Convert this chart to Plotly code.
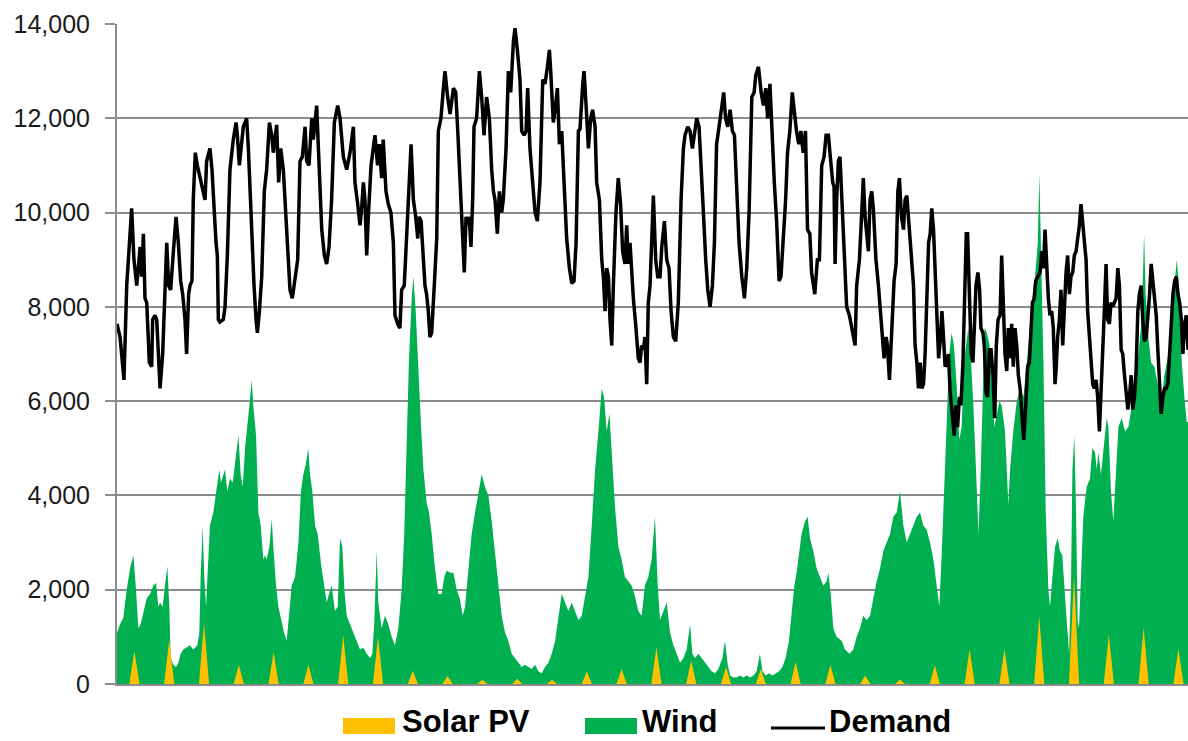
import plotly.graph_objects as go

# hour of month -> MW at turning points
demand_hours = [
    0, 2.1, 3.2, 4.8, 6.7, 8.5, 10.1, 11.7, 13.6, 14.7, 15.9, 17.0, 18.2, 19.3, 20.5, 22.3, 23.9,
    24.6, 26.2, 27.4, 28.5, 29.7, 31.5, 33.1, 34.3, 35.6, 37.0, 38.9, 40.7, 42.3, 43.9, 45.3, 46.9,
    48.0, 49.4, 50.3, 51.7, 52.6, 54.0, 55.4, 56.8, 57.7, 59.1, 60.7, 61.8, 64.1, 65.5, 66.9, 68.3,
    69.2, 69.9, 71.0, 73.3, 74.5, 76.1, 77.9, 80.2, 82.1, 83.0, 84.4, 86.0, 87.1, 88.3, 89.4, 90.6,
    91.7, 93.6, 94.5, 95.9, 96.8, 98.2, 99.8, 101.6, 103.2, 105.1, 106.7, 107.8, 110.1, 111.5, 112.9,
    114.7, 116.6, 118.2, 119.3, 120.9, 122.8, 124.6, 126.2, 127.8, 129.7, 130.8, 132.4, 134.3, 135.4,
    137.7, 138.9, 140.0, 141.2, 143.0, 144.6, 146.2, 148.0, 149.9, 152.2, 153.8, 156.1, 158.4, 160.7,
    163.0, 164.1, 166.0, 167.6, 168.7, 169.9, 171.0, 172.2, 173.3, 175.2, 176.7, 177.9, 179.7, 180.9,
    182.5, 183.6, 185.5, 187.1, 188.9, 190.6, 191.7, 193.5, 195.1, 196.3, 198.1, 199.7, 201.3, 202.8,
    204.4, 206.0, 207.4, 208.3, 209.7, 210.8, 212.4, 213.5, 214.7, 215.8, 217.0, 218.8, 220.5, 221.6,
    223.4, 225.1, 226.2, 228.0, 229.7, 232.0, 233.6, 235.0, 236.6, 238.2, 239.5, 240.7, 241.8, 242.9,
    244.1, 245.3, 246.2, 248.0, 249.9, 251.5, 253.1, 254.9, 256.8, 258.4, 259.6, 260.7, 262.3, 263.7,
    265.3, 266.4, 268.3, 269.9, 271.5, 273.4, 274.5, 276.1, 277.9, 279.1, 280.7, 282.1, 283.2, 284.8,
    286.7, 288.3, 289.9, 291.7, 293.6, 295.2, 296.8, 298.2, 299.1, 300.9, 302.1, 303.7, 305.1, 306.7,
    308.3, 310.1, 312.0, 313.6, 315.2, 316.6, 318.2, 319.3, 321.2, 322.1, 323.5, 325.1, 326.7, 328.0,
    329.7, 330.8, 332.7, 334.3, 335.4, 336.6, 337.7, 338.9, 340.0, 341.2, 342.3, 344.1, 345.7, 347.3,
    348.7, 350.3, 351.5, 352.6, 353.8, 354.9, 356.1, 357.9, 359.5, 360.7, 361.8, 363.0, 364.1, 365.3,
    366.4, 367.6, 368.7, 369.9, 371.5, 372.9, 374.5, 375.7, 377.5, 379.1, 380.7, 382.1, 383.7, 385.3,
    387.1, 389.0, 390.6, 391.7, 393.6, 395.2, 396.8, 398.2, 399.8, 401.4, 402.8, 404.4, 406.0, 407.4,
    409.0, 410.6, 412.0, 413.5, 415.2, 416.8, 418.4, 419.7, 421.2, 422.8, 424.4, 425.8, 427.4, 429.0,
    430.9, 432.7, 434.3, 435.9, 437.8, 439.4, 440.5, 442.4, 444.2, 445.8, 447.4, 448.7, 450.3, 451.5,
    453.3, 454.9, 456.6, 457.9, 459.5, 461.1, 462.4, 464.0, 465.7, 467.4, 468.6, 470.2, 471.6, 473.2,
    474.8, 476.2, 477.8, 479.0, 481.2, 483.0, 484.4, 486.0, 487.6, 489.0, 490.6, 492.2, 493.6, 494.5,
    495.2, 496.3, 497.5, 498.6, 499.8, 500.9, 502.1, 503.2, 505.1, 506.7, 508.3, 509.0, 510.1, 512.0,
    513.6, 514.7, 515.9, 517.0, 518.2, 519.3, 520.5, 521.6, 523.4, 525.1, 526.7, 528.1, 529.0, 530.4,
    531.3, 532.7, 534.3, 535.9, 537.3, 538.5, 539.6, 541.0, 542.4, 543.5, 544.7, 545.8, 547.0, 548.1,
    549.3, 550.4, 551.6, 552.7, 553.9, 555.0, 556.2, 557.3, 558.5, 559.7, 560.8, 561.9, 563.1, 564.2,
    565.4, 566.6, 567.7, 568.9, 570.0, 571.1, 572.3, 573.4, 574.6, 576.4, 577.4, 578.5, 579.7, 581.0,
    582.0, 583.4, 584.3, 585.7, 586.6, 588.0, 589.1, 590.3, 591.4, 592.4, 593.7, 594.9, 595.8, 597.2,
    598.1, 599.3, 600.4, 601.6, 602.8, 604.1, 605.3, 606.4, 607.6, 609.0, 610.1, 611.3, 612.4, 613.6,
    614.7, 615.8, 617.0, 618.1, 619.3, 620.5, 621.6, 622.8, 623.9, 625.3, 626.7, 628.0, 629.2, 630.3,
    631.3, 632.6, 633.6, 635.0, 636.6, 637.7, 638.9, 640.0, 641.1, 642.3, 643.4, 644.6, 645.7, 646.9,
    647.6, 648.7, 649.9, 651.0, 652.2, 653.4, 654.5, 655.6, 656.8, 657.9, 659.1, 660.2, 661.4, 662.5,
    663.7, 664.8, 666.0, 667.1, 668.3, 669.4, 670.6, 671.7, 672.9, 674.0, 675.2, 676.3, 677.5, 678.6,
    679.8, 680.9, 682.1, 683.2, 684.4, 685.5, 686.7, 687.8, 689.0, 690.2, 691.3, 692.5, 693.6, 694.8,
    695.9, 697.1, 698.2, 699.4, 700.5, 701.7, 702.8, 704.0, 705.1, 706.3, 707.4, 708.6, 709.8, 710.9,
    712.1, 713.2, 714.4, 715.5, 716.7, 717.8, 719.0, 720.1, 721.3, 722.4, 723.6, 724.7, 725.9, 727.0,
    728.2, 729.4, 730.5, 731.7, 732.8, 734.0, 735.1, 736.3, 737.4, 738.6, 741.0,
]
demand_mw = [
    7640, 7360, 7000, 6450, 8450, 9450, 10090, 9000, 8450, 8820, 9270, 8640, 9550, 8180, 8090, 6820, 6730,
    7730, 7820, 7730, 7000, 6270, 7000, 8450, 9360, 8450, 8360, 9180, 9910, 9360, 8550, 8270, 7730,
    7000, 8270, 8450, 8550, 10270, 11270, 11000, 10820, 10730, 10550, 10270, 11090, 11360, 10910, 10000, 9360,
    9090, 7730, 7680, 7730, 8000, 9090, 10910, 11550, 11910, 11640, 11000, 11450, 11820, 11910, 12000, 11360,
    10450, 9270, 8450, 7730, 7450, 7910, 8640, 10450, 10910, 11910, 11640, 11270, 11860, 10640, 11360,
    10910, 9730, 8820, 8360, 8180, 8640, 9000, 11090, 11180, 11820, 11090, 11000, 12000, 11550,
    12270, 11360, 10270, 9640, 9090, 8910, 9270, 10270, 11910, 12270, 12000, 11180, 10910, 11270,
    11820, 10640, 10180, 9730, 10090, 10640, 10270, 9090, 9910, 11000, 11360, 11640, 11000, 11450,
    10730, 11550, 10450, 10180, 10000, 9360, 7820, 7640, 7550, 8360, 8450, 9450, 10450, 11450,
    10270, 9910, 9450, 9910, 9820, 9360, 8450, 8270, 7910, 7360, 7450, 8450, 9450, 11730,
    12000, 12640, 13000, 12450, 12090, 12640, 12550, 11730, 10640, 9360, 8730, 9910, 9730, 9910,
    9270, 10270, 11820, 12000, 13000, 12450, 11640, 12450, 12000, 10910, 10450, 10270, 9550, 10450,
    10000, 10270, 11360, 13000, 12550, 13640, 13910, 13450, 12820, 11730, 11640, 11730, 12640, 11360,
    10640, 10000, 9820, 10640, 12820, 12730, 13090, 13450, 13000, 11910, 12180, 12640, 11450, 11730,
    10640, 9450, 8820, 8500, 8550, 9360, 11730, 11770, 12730, 13000, 12270, 11360, 12000, 12180,
    11820, 10640, 10270, 9000, 8640, 7910, 8820, 8640, 7730, 7180, 8450, 10000, 10730, 10180,
    9180, 8910, 9730, 8910, 9360, 8640, 8180, 7550, 6910, 6820, 7180, 7090, 7360, 6360,
    8090, 8450, 9180, 10360, 9000, 8640, 8640, 9270, 9820, 9000, 8820, 7910, 7360, 7270,
    8090, 10270, 11360, 11640, 11820, 11730, 11360, 11730, 12000, 11820, 11090, 10000, 9000, 8360,
    8000, 8450, 9360, 11450, 11820, 12270, 12550, 12000, 11820, 12180, 11730, 11640, 10360, 9360,
    8640, 8180, 8820, 10000, 12450, 12550, 12910, 13090, 12550, 12270, 12640, 12000, 12730, 11820,
    10640, 9820, 8550, 8640, 9360, 10270, 11270, 11730, 12550, 12000, 11730, 11450, 11730, 11270,
    11730, 9640, 9550, 8730, 8270, 9000, 9000, 11000, 11180, 11640, 11640, 11090, 10640, 10550,
    8910, 10270, 11090, 11180, 10270, 9360, 8820, 8000, 7820, 7550, 7360, 7180, 8450, 9000,
    10000, 10730, 9910, 9450, 9180, 10270, 10450, 10090, 9000, 8450, 7820, 7360, 6910, 7360,
    7180, 6450, 7730, 8550, 8910, 10450, 10730, 9910, 9640, 10270, 10360, 9910, 9360, 8730,
    8450, 7180, 6820, 6270, 6820, 6270, 6360, 7000, 8450, 9360, 9550, 10090, 9640, 8910,
    7910, 6910, 7270, 7910, 7360, 6730, 6820, 7000, 6180, 5550, 5270, 5910, 5450, 6090,
    5910, 6820, 7820, 9550, 9550, 8180, 7000, 6820, 7730, 8450, 8730, 8360, 7550, 7450,
    7180, 6180, 6090, 7090, 7090, 6550, 5640, 7180, 7730, 7820, 9090, 8180, 7000, 6640,
    7550, 6910, 7640, 6730, 7550, 7180, 6550, 6270, 5640, 5180, 5910, 6730, 6820, 7730,
    8090, 8180, 8550, 8640, 8730, 9180, 8820, 9640, 8730, 8180, 7820, 7910, 7550, 6360,
    6640, 7360, 7730, 8360, 7180, 8090, 8730, 9090, 8270, 8640, 8730, 9090, 9180, 9450,
    9730, 10180, 9730, 9360, 9000, 7910, 7360, 6910, 6360, 6270, 6450, 6090, 5360, 6180,
    7360, 7910, 8910, 7730, 7640, 8090, 8000, 8090, 8180, 8820, 8450, 7090, 7000, 6550,
    6090, 5820, 6090, 6550, 5820, 6090, 6640, 7910, 8270, 8450, 7730, 7270, 7360, 7730,
    8270, 8910, 8550, 8270, 7820, 7090, 6450, 5730, 6090, 6270, 6270, 6360, 7000, 7730,
    8270, 8550, 8640, 8270, 8090, 7730, 7000, 7640, 7820, 7090, 7500,
]

wind_hours = [
    0, 2.1, 4.4, 6.7, 9.0, 11.3, 13.1, 14.7, 16.3, 18.2, 20.5, 22.8, 25.1, 26.9, 28.5, 29.7, 31.5,
    33.1, 34.7, 36.1, 37.0, 38.9, 40.7, 42.3, 43.9, 45.7, 48.0, 50.3, 52.6, 55.4, 56.8, 57.7, 59.1,
    60.2, 61.4, 63.0, 64.1, 66.4, 68.7, 70.6, 71.7, 73.3, 74.5, 76.1, 77.9, 79.8, 81.4, 83.7, 85.3,
    86.7, 88.3, 89.9, 91.3, 92.9, 94.0, 95.9, 97.5, 99.1, 100.9, 102.1, 103.2, 105.1, 106.7, 107.8,
    109.7, 111.3, 113.6, 115.2, 117.0, 118.5, 120.5, 122.8, 125.1, 126.9, 128.5, 130.1, 131.9, 133.1,
    134.7, 136.6, 138.4, 140.7, 142.3, 144.6, 146.2, 148.0, 150.3, 152.2, 153.8, 155.4, 156.8, 158.4,
    160.7, 163.0, 165.3, 167.6, 169.9, 172.2, 174.5, 176.1, 177.5, 179.1, 180.2, 182.5, 184.8, 187.1,
    189.4, 191.7, 194.0, 196.3, 198.1, 199.7, 201.3, 203.2, 204.4, 206.0, 207.8, 209.7, 211.3, 213.6,
    215.2, 217.0, 219.3, 221.6, 223.9, 225.7, 227.4, 229.7, 232.0, 234.3, 236.6, 238.4, 240.0, 242.3,
    244.6, 246.9, 249.2, 251.5, 253.8, 256.1, 258.4, 260.7, 263.0, 265.3, 267.6, 269.9, 272.2, 274.5,
    276.8, 279.1, 281.4, 283.7, 286.0, 288.3, 290.6, 292.9, 295.2, 297.5, 299.8, 302.1, 304.4, 306.7,
    309.0, 311.3, 313.6, 315.9, 318.2, 320.5, 322.8, 325.1, 327.4, 329.7, 332.0, 334.3, 335.9, 337.7,
    339.6, 341.2, 343.5, 345.8, 348.0, 350.3, 352.6, 354.9, 357.2, 359.5, 361.8, 364.1, 366.4, 368.7,
    371.0, 372.9, 374.5, 376.8, 379.1, 381.4, 383.7, 386.0, 388.3, 390.6, 392.9, 395.2, 396.8, 398.6,
    400.9, 403.2, 405.5, 407.8, 410.1, 412.4, 414.7, 417.5, 419.3, 421.2, 422.8, 425.1, 427.4, 429.7,
    432.0, 434.3, 436.6, 438.9, 441.1, 443.4, 445.1, 447.4, 449.7, 452.0, 454.3, 456.6, 458.9, 461.1,
    463.4, 465.3, 467.1, 468.7, 470.3, 472.1, 474.5, 476.3, 477.9, 480.2, 482.5, 484.8, 487.1, 489.4,
    490.6, 492.2, 494.0, 496.3, 499.8, 502.1, 505.1, 507.8, 510.1, 512.4, 514.7, 517.0, 519.3, 521.6,
    523.9, 526.2, 528.5, 530.8, 533.1, 535.4, 537.7, 540.0, 542.3, 544.6, 546.9, 549.2, 551.5, 553.8,
    556.1, 558.4, 560.7, 563.0, 565.3, 567.1, 568.7, 570.3, 572.2, 574.0, 575.6, 577.2, 579.0, 580.9,
    582.5, 584.1, 585.5, 587.1, 588.7, 590.6, 592.4, 594.1, 595.7, 597.1, 598.3, 599.9, 601.7, 603.3,
    605.0, 606.8, 608.6, 610.1, 612.4, 614.7, 615.9, 618.1, 620.5, 622.8, 625.1, 627.4, 629.7, 632.0,
    633.1, 635.0, 636.1, 637.3, 638.9, 640.5, 642.3, 643.4, 645.0, 646.9, 648.7, 650.3, 651.9, 653.3,
    654.9, 656.6, 657.9, 658.9, 660.2, 661.4, 662.5, 663.4, 664.8, 666.4, 668.7, 671.0, 672.6, 674.5,
    675.6, 676.8, 678.6, 680.2, 682.5, 683.7, 685.5, 687.1, 688.8, 690.6, 692.9, 695.2, 697.5, 699.8,
    702.1, 704.4, 706.7, 708.3, 709.4, 711.3, 713.1, 715.4, 717.7, 720.0, 722.3, 724.6, 726.9, 729.2,
    730.8, 732.4, 734.3, 736.1, 737.7, 741.0,
]
wind_mw = [
    1090, 1270, 1410, 2000, 2450, 2730, 2000, 1180, 1270, 1550, 1820, 1910, 2090, 2140, 1640, 1730, 1640,
    2090, 2500, 1640, 550, 410, 360, 450, 640, 730, 770, 820, 730, 820, 1090, 2270, 3360,
    2270, 1640, 2730, 3360, 3640, 4090, 4550, 4270, 4450, 4550, 4090, 4360, 4270, 4640, 5270, 4450,
    4180, 5000, 5450, 5910, 6450, 5910, 5270, 3640, 3360, 2640, 2730, 2640, 2910, 3500, 2910,
    2090, 1640, 1270, 1090, 910, 1400, 2090, 2270, 3000, 4090, 4450, 4640, 5000, 4450,
    4090, 3360, 3180, 2550, 2180, 1730, 1910, 2090, 1550, 1640, 3090, 2910, 2000, 1450,
    1270, 1090, 910, 730, 770, 640, 550, 640, 1360, 2820, 1730, 1180, 1450, 1270,
    1000, 820, 1180, 2000, 3180, 5000, 6820, 8180, 8640, 7910, 6640, 5450, 4550, 3820,
    3640, 3180, 2450, 1910, 1910, 2270, 2410, 2360, 2360, 2000, 1780, 1450, 1640, 2450,
    3180, 3640, 4090, 4450, 4180, 4000, 3450, 2730, 2090, 1450, 1090, 910, 640, 550,
    450, 360, 410, 360, 320, 410, 270, 230, 360, 450, 640, 910, 1360, 1910,
    1730, 1550, 1730, 1550, 1360, 1450, 1820, 2270, 3360, 4550, 5360, 6270, 6090, 5360,
    5730, 4910, 3730, 2910, 2640, 2270, 2180, 2090, 1860, 1550, 1450, 2090, 2270, 2640,
    3550, 2090, 1360, 1550, 1730, 1090, 820, 640, 450, 550, 730, 1270, 640, 550,
    640, 550, 450, 360, 270, 230, 320, 550, 910, 410, 180, 140, 140, 180,
    140, 180, 140, 180, 270, 640, 270, 180, 230, 180, 230, 270, 360, 550,
    910, 1550, 2090, 2360, 2730, 3180, 3450, 3550, 3090, 2820, 2450, 2270, 2090, 2180,
    2360, 1910, 1180, 1000, 910, 730, 640, 730, 1000, 1180, 1450, 1360, 1450, 1820,
    2180, 2450, 2820, 3000, 3180, 3550, 3640, 4090, 3360, 3000, 3180, 3360, 3550, 3640,
    3360, 3270, 3000, 2640, 2090, 1640, 2730, 4090, 5910, 7000, 7450, 7180, 6360, 5180,
    5450, 6820, 7180, 7550, 7000, 5910, 4550, 3180, 4550, 6360, 7550, 7450, 7180, 6360,
    5450, 5730, 6000, 5910, 5360, 3820, 4550, 5360, 6000, 6270, 6090, 6820, 7730, 8450,
    8640, 9360, 10820, 9090, 6820, 3640, 2000, 1640, 2270, 2910, 3090, 2820, 2730, 2000,
    1360, 640, 2090, 4550, 5270, 3640, 1360, 1180, 2270, 3550, 4180, 4360, 5000, 4910,
    4550, 4910, 4450, 5000, 5640, 5450, 4090, 3450, 4550, 5450, 5640, 5360, 5450, 5910,
    6640, 7000, 7730, 9550, 8270, 7360, 6820, 6730, 6360, 5910, 6550, 6910, 7550, 8450,
    9000, 8450, 6820, 6090, 5550, 5600,
]

# daily midday peak of solar PV output (31 days)
solar_peak_mw = [
    700, 930, 1290, 410, 680, 410, 1040, 1000, 280, 170, 90, 110, 90, 270, 320, 780,
    500, 360, 320, 470, 410, 180, 90, 400, 740, 730, 1450, 2300, 1050, 1200, 740,
]
sunrise_hour, noon_hour, sunset_hour = 8.5, 12, 15.5

solar_hours, solar_mw = [], []
for d, p in enumerate(solar_peak_mw):
    solar_hours += [24 * d + sunrise_hour, 24 * d + noon_hour, 24 * d + sunset_hour]
    solar_mw += [0, p, 0]

GREEN = "#00B050"
GOLD = "#FFC000"
GRID = "#8C8C8C"

fig = go.Figure()
fig.add_trace(go.Scatter(
    x=wind_hours, y=wind_mw, name="Wind", mode="lines",
    line=dict(width=0, color=GREEN), fill="tozeroy", fillcolor=GREEN,
))
fig.add_trace(go.Scatter(
    x=solar_hours, y=solar_mw, name="Solar PV", mode="lines",
    line=dict(width=0, color=GOLD), fill="tozeroy", fillcolor=GOLD,
))
fig.add_trace(go.Scatter(
    x=demand_hours, y=demand_mw, name="Demand", mode="lines",
    line=dict(width=3.5, color="black"),
))

# hand-made legend below the plot (wide swatches like the original)
legend_items = [
    ("Solar PV", GOLD, "box", 343, 395, 400),
    ("Wind", GREEN, "box", 585, 637, 640),
    ("Demand", "black", "line", 771, 825, 827),
]
px0, pw, py_bottom, ph = 117, 1071, 684, 660


def to_px(x):
    return (x - px0) / pw


def to_py(y):
    return (py_bottom - y) / ph


shapes, annotations = [], []
for label, color, kind, x0, x1, tx in legend_items:
    if kind == "box":
        shapes.append(dict(type="rect", xref="paper", yref="paper",
                           x0=to_px(x0), x1=to_px(x1), y0=to_py(734), y1=to_py(718),
                           fillcolor=color, line=dict(width=0)))
    else:
        shapes.append(dict(type="line", xref="paper", yref="paper",
                           x0=to_px(x0), x1=to_px(x1), y0=to_py(728), y1=to_py(728),
                           line=dict(color=color, width=3)))
    # box bottom sits on the page edge so nothing is cut off
    annotations.append(dict(text=label, xref="paper", yref="paper", x=to_px(tx), y=to_py(741),
                            xanchor="left", yanchor="bottom", showarrow=False,
                            font=dict(family="Liberation Sans, Arial", size=31, color="black",
                                      weight="bold")))

fig.update_layout(
    width=1188, height=741,
    margin=dict(l=117, r=0, t=24, b=57),
    paper_bgcolor="white", plot_bgcolor="white",
    showlegend=False,
    font=dict(family="Liberation Sans, Arial", color="#1a1a1a"),
    xaxis=dict(range=[0, 738.6], showticklabels=False, showgrid=False, zeroline=False,
               showline=True, linecolor=GRID, linewidth=2, ticks=""),
    yaxis=dict(range=[0, 14000], dtick=2000, tickformat=",d", showgrid=True, gridcolor=GRID,
               gridwidth=2, zeroline=False, showline=True, linecolor=GRID, linewidth=2,
               ticks="outside", ticklen=10, tickcolor=GRID, tickwidth=2,
               ticklabelstandoff=10, tickfont=dict(size=25, color="#1a1a1a")),
    shapes=shapes,
    annotations=annotations,
)

# the page body has a default 8px margin; drop it so the figure sits at the window corner
fig.write_html("out.html", config={"displayModeBar": False},
               post_script="document.body.style.margin='0';")
